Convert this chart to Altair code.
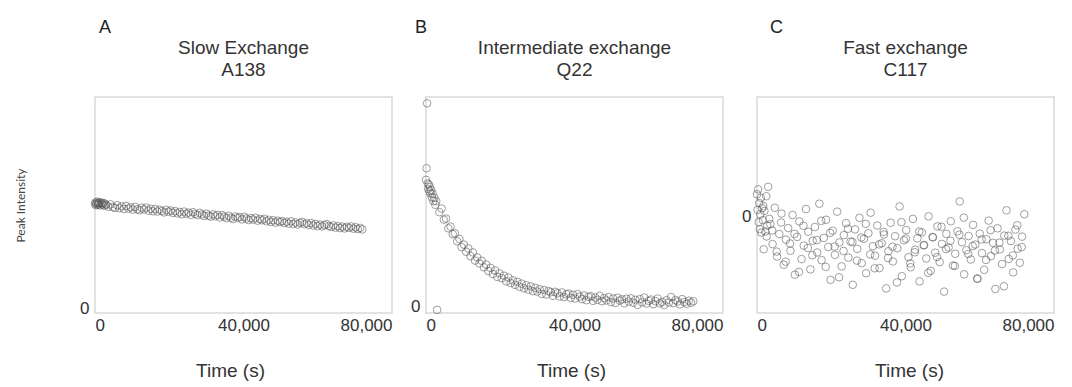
import altair as alt
import pandas as pd

# ---------------- data ----------------
times = [0, 150, 300, 450, 600, 750, 900, 1050, 1200, 1400, 1600, 1800, 2000, 2250, 2500, 2750, 3000,
         3600, 4200, 4800, 5400, 6000, 6600, 7200, 7800, 8400, 9000, 9600, 10200, 10800, 11400, 12000,
         12600, 13200, 13800, 14400, 15000, 15600, 16200, 16800, 17400, 18000, 18600, 19200, 19800,
         20400, 21000, 21600, 22200, 22800, 23400, 24000, 24600, 25200, 25800, 26400, 27000, 27600,
         28200, 28800, 29400, 30000, 30600, 31200, 31800, 32400, 33000, 33600, 34200, 34800, 35400,
         36000, 36600, 37200, 37800, 38400, 39000, 39600, 40200, 40800, 41400, 42000, 42600, 43200,
         43800, 44400, 45000, 45600, 46200, 46800, 47400, 48000, 48600, 49200, 49800, 50400, 51000,
         51600, 52200, 52800, 53400, 54000, 54600, 55200, 55800, 56400, 57000, 57600, 58200, 58800,
         59400, 60000, 60600, 61200, 61800, 62400, 63000, 63600, 64200, 64800, 65400, 66000, 66600,
         67200, 67800, 68400, 69000, 69600, 70200, 70800, 71400, 72000]

slow_A138 = [49.5, 50.2, 48.9, 49.8, 50.6, 49.1, 50.0, 49.4, 50.3, 48.8, 49.7, 50.1, 49.2, 49.9, 48.7, 49.6, 49.0,
             48.2, 49.3, 48.0, 47.6, 48.9, 47.5, 48.4, 47.1, 48.6, 47.3,
             47.9, 46.8, 48.1, 47.0, 46.5, 47.7, 46.9, 47.8, 46.3, 47.2,
             46.0, 47.1, 45.9, 46.8, 46.2, 45.5, 46.7, 45.8, 46.4, 45.3,
             46.1, 45.0, 45.7, 44.6, 45.9, 44.9, 45.4, 44.3, 45.6, 44.8,
             44.2, 45.3, 44.5, 43.8, 44.9, 44.0, 43.5, 44.6, 43.7, 44.3,
             43.1, 44.2, 43.5, 42.8, 43.9, 43.0, 42.4, 43.6, 42.9, 43.3,
             42.2, 43.4, 42.6, 41.9, 42.8, 42.1, 43.0, 41.6, 42.4, 41.8,
             42.5, 41.3, 42.0, 41.0, 41.8, 40.7, 41.6, 40.9, 41.4, 40.5,
             41.1, 40.2, 41.3, 40.0, 40.8, 39.8, 40.6, 41.0, 39.9, 40.4,
             39.6, 40.5, 39.3, 40.1, 39.0, 39.8, 38.9, 39.5, 40.0, 39.1,
             38.6, 39.4, 38.3, 39.0, 38.1, 38.8, 37.9, 38.7, 38.2, 38.9,
             37.8, 38.5, 37.6, 38.2, 37.5]

inter_Q22 = [60.5, 66.0, 97.0, 58.8, 56.2, 58.3, 55.0, 57.1, 54.0, 55.6, 52.1, 53.9, 50.4, 52.0, 48.6, 50.3, -1.5,
             45.1, 46.8, 41.5, 42.0, 37.4, 38.2, 34.6, 35.0, 31.2, 32.3,
             28.4, 29.6, 26.2, 27.8, 24.1, 25.9, 22.0, 23.5, 20.6, 21.9,
             18.8, 20.1, 17.0, 18.5, 15.6, 17.3, 14.2, 15.9, 13.6, 14.8,
             12.1, 13.9, 11.3, 12.6, 10.4, 11.9, 9.5, 11.0, 8.8, 10.2,
             8.1, 9.7, 7.4, 9.0, 7.2,
             8.4, 6.1, 7.9, 5.8, 7.5, 6.9, 5.2, 7.1, 6.4, 4.9,
             6.8, 4.6, 5.9, 6.3, 4.2, 5.7, 3.9, 6.0, 4.8, 3.6,
             5.4, 3.1, 4.7, 5.0, 2.8, 4.4, 3.3, 5.2, 2.6, 4.1,
             3.0, 4.6, 2.2, 3.9, 1.8, 4.3, 2.9, 3.5, 1.6, 3.8,
             2.4, 4.0, 1.9, 3.3, 0.9, 3.6, 2.1, 4.4, 1.5, 2.8,
             3.4, 1.2, 2.7, 3.9, 1.6, 2.3, 0.8, 3.1, 2.0, 4.6,
             1.7, 3.2, 2.5, 1.1, 3.6, 2.2, 1.4, 2.9, 1.9, 2.6]

fast_C117 = [10.5, 3.2, 12.8, -2.5, 6.4, -5.8, 1.1, 8.9, -7.4, 4.0, -1.6, -15.2, 2.7, -6.9, 9.6, -4.1, 14.0,
             -3.5, -12.8, 4.2, -18.6, -8.1, 1.5, -22.4, -10.7, -5.3, -15.9,
             0.8, -27.1, -9.4, -2.2, -19.8, -13.5, 3.6, -7.0, -24.6, -11.2,
             -4.8, -16.7, 6.1, -20.3, -9.9, -1.4, -14.1, -29.5, -6.5, -17.8,
             2.4, -12.0, -23.2, -8.6, -3.0, -19.1, -11.6, -31.8, -5.9, -15.0,
             -0.5, -21.7, -10.3, -26.4, -7.7, 1.9, -13.8, -18.2, -4.1, -24.0,
             -12.4, -8.3, -33.5, -16.1, -2.8, -20.9, -9.1, -14.7, 4.8, -27.8,
             -11.0, -6.2, -18.9, -23.6, -1.0, -15.4, -10.1, -30.2, -7.3, -13.2,
             -19.5, 0.2, -25.3, -9.6, -16.8, -4.5, -21.2, -12.7, -35.0, -8.0,
             -14.4, -2.1, -22.8, -17.3, -6.8, 7.2, -11.9, -26.9, -15.6, -9.0,
             -20.0, -3.8, -13.0, -29.0, -7.9, -17.0, -24.8, -10.5, -1.8, -18.4,
             -12.2, -33.8, -5.4, -15.3, -22.1, -8.8, 3.0, -19.7, -11.4, -26.0,
             -6.0, -14.9, -21.5, -9.3, 1.2]

# extra C117 acquisitions (interleaved time points)
fast_C117_extra_times = [1700, 2600, 3300, 4100, 5300, 6500, 7700, 8900, 10100, 11300, 12500, 13700,
                         14900, 16100, 17300, 18500, 19700, 20900, 22100, 23300, 24500, 25700, 26900,
                         28100, 29300, 30500, 31700, 32900, 34100, 35300, 36500, 37700, 38900, 40100,
                         41300, 42500, 43700, 44900, 46100, 47300, 48500, 49700, 50900, 52100, 53300,
                         54500, 55700, 56900, 58100, 59300, 60500, 61700, 62900, 64100, 65300, 66500,
                         67700, 68900, 70100, 71300]
fast_C117_extra = [5.0, -9.2, -1.0, -6.4, -16.3, -2.7, -21.0, -12.5, -8.0, -25.8,
                   -4.2, -14.6, -18.0, -10.9, -1.9, -23.4, -7.5, -13.9, -28.3, -16.0,
                   -5.6, -11.8, -20.5, -9.7, -3.3, -17.6, -24.1, -12.9, -7.1, -19.3,
                   -14.0, -30.7, -2.5, -10.2, -21.8, -16.6, -6.9, -13.4, -26.2, -9.5,
                   -18.8, -4.7, -15.1, -11.2, -23.0, -8.4, -0.4, -17.4, -13.7, -28.9,
                   -10.6, -20.2, -6.3, -15.8, -12.1, -32.5, -8.9, -18.1, -4.0, -14.2]

panel_letters = ["A", "B", "C"]
panel_titles = [["Slow Exchange", "A138"], ["Intermediate exchange", "Q22"], ["Fast exchange", "C117"]]
y_domains = [[-2, 100], [-3, 100], [-45, 56]]
x_ticks = [0, 40000, 80000]
y_ticks = [0]

FONT = "Liberation Sans"
W, H = 297, 216


def label_layer(text, x, y, size, align, color):
    return alt.Chart(pd.DataFrame({"label": [text]})).mark_text(
        font=FONT, fontSize=size, color=color, align=align, baseline="middle"
    ).encode(x=alt.value(x), y=alt.value(y), text="label:N")


def panel(i, t_values, values, letter_dx, show_ytitle, xtitle_x):
    df = pd.DataFrame({"t": t_values, "v": values})
    yaxis = dict(values=y_ticks, labelPadding=6)
    if show_ytitle:
        yaxis.update(title="Peak Intensity", titlePadding=52, titleFont="Lato", titleFontSize=12,
                     titleFontWeight="normal", titleColor="#444")
    pts = alt.Chart(df).mark_point(
        shape="circle", filled=False, size=58, strokeWidth=1,
        color="#505050", opacity=0.55
    ).encode(
        x=alt.X("t:Q", scale=alt.Scale(domain=[0, 80000], nice=False, zero=False),
                axis=alt.Axis(values=x_ticks, format=",.0f", title="Time (s)",
                              titlePadding=28, labelPadding=4, titleX=xtitle_x)),
        y=alt.Y("v:Q", scale=alt.Scale(domain=y_domains[i], nice=False, zero=False),
                axis=alt.Axis(**yaxis), title="Peak Intensity" if show_ytitle else None),
    )
    layers = [
        pts,
        label_layer(panel_letters[i], letter_dx, -69, 18, "left", "#222"),
        label_layer(panel_titles[i][0], W / 2, -49, 19, "center", "#333"),
        label_layer(panel_titles[i][1], W / 2, -27, 19, "center", "#333"),
    ]
    return alt.layer(*layers).properties(width=W, height=H)


a = panel(0, times, slow_A138, 4, True, 135)
b = panel(1, times, inter_Q22, -11, False, 145)
c = panel(2, times + fast_C117_extra_times, fast_C117 + fast_C117_extra, 13, False, 152)

chart = alt.hconcat(a, b, c, spacing=34, bounds="flush").properties(
    padding={"left": 5, "top": 10, "right": 5, "bottom": 2}
).configure_view(
    stroke="#d9d9d9", strokeWidth=1.5
).configure_axis(
    ticks=False, grid=False, domain=False,
    labelFont=FONT, labelFontSize=17, labelColor="#333",
    titleFont=FONT, titleFontSize=19, titleFontWeight="normal", titleColor="#333",
)

chart.save("out.html", embed_options={"renderer": "svg", "actions": False})
